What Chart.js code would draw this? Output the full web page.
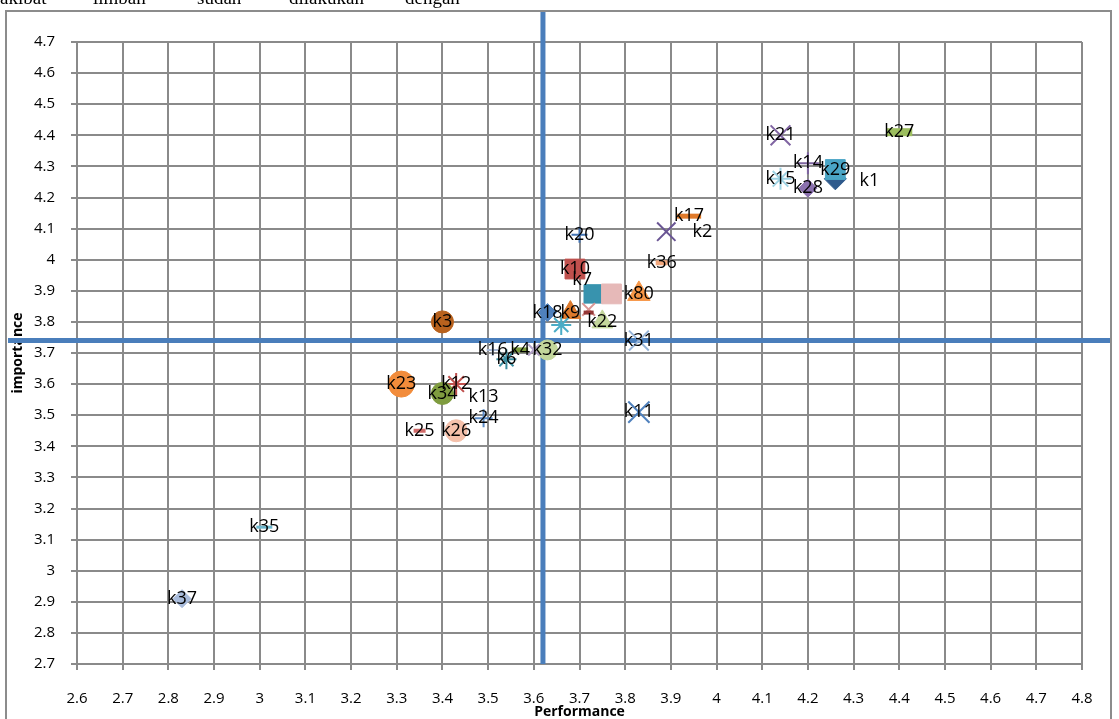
<!DOCTYPE html>
<html>
<head>
<meta charset="utf-8">
<script src="https://cdn.jsdelivr.net/npm/chart.js@4.4.0/dist/chart.umd.min.js"></script>
<style>
  html, body { margin: 0; padding: 0; background: #fff; }
  #wrap { position: relative; width: 1119px; height: 719px; overflow: hidden; }
  #chart { position: absolute; left: 0; top: 0; }
  .word { position: absolute; top: -13px; font: 19px "Liberation Serif", serif; color: #000; white-space: nowrap; }
</style>
</head>
<body>
<div id="wrap">
  <canvas id="chart" width="1119" height="719"></canvas>
  <span class="word" style="left:0px">akibat</span>
  <span class="word" style="left:93px">limbah</span>
  <span class="word" style="left:197px">sudah</span>
  <span class="word" style="left:289px">dilakukan</span>
  <span class="word" style="left:405px">dengan</span>
</div>
<script>
// --- data ---
const pointNames = ["k1", "k2", "k3", "k4", "k6", "k7", "k9", "k10", "k11", "k12", "k13", "k14", "k15", "k16", "k17", "k18",
  "k20", "k21", "k22", "k23", "k24", "k25", "k26", "k27", "k28", "k29", "k31", "k32", "k34", "k35", "k36", "k37", "k80",
  "", "", "", "", ""];
const performance = [4.26, 3.89, 3.40, 3.57, 3.54, 3.73, 3.68, 3.69, 3.83, 3.43, 3.49, 4.20, 4.14, 3.51, 3.94, 3.63,
  3.70, 4.14, 3.75, 3.31, 3.49, 3.35, 3.43, 4.40, 4.20, 4.26, 3.83, 3.63, 3.40, 3.01, 3.88, 2.83, 3.83,
  3.60, 3.66, 3.72, 3.72, 3.77];
const importance = [4.26, 4.09, 3.80, 3.71, 3.68, 3.89, 3.83, 3.97, 3.51, 3.60, 3.56, 4.31, 4.26, 3.71, 4.14, 3.83,
  4.08, 4.40, 3.80, 3.60, 3.49, 3.45, 3.45, 4.41, 4.23, 4.29, 3.74, 3.71, 3.57, 3.14, 3.99, 2.91, 3.89,
  3.71, 3.79, 3.84, 3.83, 3.89];
const xTickLabels = ["2.6", "2.7", "2.8", "2.9", "3", "3.1", "3.2", "3.3", "3.4", "3.5", "3.6", "3.7", "3.8", "3.9",
  "4", "4.1", "4.2", "4.3", "4.4", "4.5", "4.6", "4.7", "4.8"];
const yTickLabels = ["2.7", "2.8", "2.9", "3", "3.1", "3.2", "3.3", "3.4", "3.5", "3.6", "3.7", "3.8", "3.9",
  "4", "4.1", "4.2", "4.3", "4.4", "4.5", "4.6", "4.7"];
const performanceMean = 3.62;
const importanceMean = 3.74;

// --- marker styles (Excel-like) ---
const markerStyle = ["rectRot", "crossRot", "circle", "line", "star", "rect", "triangle", "rect", "crossRot", "star", "circle", "cross", "star", "cross", "line", "rectRot",
  "cross", "crossRot", "triangle", "circle", "cross", "line", "circle", "line", "rectRot", "rect", "crossRot", "circle", "circle", "line", "line", "rectRot", "triangle",
  "crossRot", "star", "crossRot", "line", "rect"];
const markerColor = ["#2E5A8C", "#6A5594", "#B8621E", "#7A9A3C", "#3A8DA0", "#3893AE", "#DD7A2C", "#C0504D", "#4F81BD", "#C0504D", "#000000", "#7E64A0", "#9DD2E3", "#A9B9D6", "#E07A2A", "#4F81BD",
  "#4475B5", "#8064A2", "#C3D69B", "#F28C3B", "#5A8AC6", "#D06A68", "#F5C0AA", "#9CBE5E", "#8B71AE", "#4AA5C5", "#95B3D7", "#C3D69B", "#7F9C3F", "#6CB7CE", "#F2A77C", "#A8BBDB", "#F79646",
  "#B3A2C7", "#4BACC6", "#D99694", "#953735", "#E6B9B8"];
const markerSize = [11, 13, 11, 8, 10, 13, 12, 14, 15, 11, 0, 11, 11, 6, 12, 9,
  8, 14, 12, 13, 9, 6, 11, 13, 9, 14, 14, 10, 11, 8, 6, 9, 13,
  8, 10, 9, 5, 14];
const markerLine = [1, 2, 1, 5, 2, 1, 1, 1, 2, 2, 1, 2, 2, 2, 5, 1,
  2, 2, 1, 1, 2, 4, 1, 8, 1, 1, 2, 1, 1, 3, 5, 1, 1,
  2, 2, 2, 4, 1];
// label shifts (px) for the few labels Excel put beside their marker
const labelShift = { "k1": [34, 2], "k2": [36, 0], "k7": [-11, -14] };

const gridColor = "#8A8A8A";
const blue = "#4A7EBB";
const tickFont = { family: "'Open Sans', sans-serif", size: 15 };
const titleFont = { family: "'Open Sans', sans-serif", size: 14, weight: "bold" };

const points = performance.map((x, i) => ({ x: x, y: importance[i] }));

const framePlugin = {
  id: "frame",
  beforeDraw(chart) {
    const ctx = chart.ctx;
    ctx.save();
    ctx.fillStyle = "#fff";
    ctx.fillRect(0, 0, chart.width, chart.height);
    ctx.strokeStyle = "#8C8C8C";
    ctx.lineWidth = 2;
    ctx.strokeRect(6, 11, 1105, 800);
    ctx.restore();
  }
};

const meanLinesPlugin = {
  id: "meanLines",
  beforeDatasetsDraw(chart) {
    const ctx = chart.ctx;
    const xs = chart.scales.x, ys = chart.scales.y;
    const px = xs.getPixelForValue(performanceMean);
    const py = ys.getPixelForValue(importanceMean);
    ctx.save();
    ctx.strokeStyle = blue;
    ctx.lineWidth = 5;
    ctx.beginPath();
    ctx.moveTo(px, 12);
    ctx.lineTo(px, chart.chartArea.bottom);
    ctx.moveTo(8, py);
    ctx.lineTo(1110, py);
    ctx.stroke();
    ctx.restore();
  }
};

const labelPlugin = {
  id: "pointLabels",
  afterDatasetsDraw(chart) {
    const ctx = chart.ctx;
    const meta = chart.getDatasetMeta(0);
    ctx.save();
    ctx.font = "18px 'Open Sans', sans-serif";
    ctx.fillStyle = "#000";
    ctx.textAlign = "center";
    ctx.textBaseline = "middle";
    meta.data.forEach((el, i) => {
      const name = pointNames[i];
      if (!name) return;
      const s = labelShift[name] || [0, 0];
      ctx.fillText(name, el.x + s[0], el.y + s[1]);
    });
    ctx.restore();
  }
};

new Chart(document.getElementById("chart"), {
  type: "scatter",
  data: {
    datasets: [{
      data: points,
      pointStyle: markerStyle,
      pointRadius: markerSize,
      pointHoverRadius: markerSize,
      pointBackgroundColor: markerColor,
      pointBorderColor: markerColor,
      pointBorderWidth: markerLine
    }]
  },
  options: {
    responsive: false,
    animation: false,
    events: [],
    layout: { padding: { left: 0, right: 37, top: 42, bottom: 0 } },
    plugins: { legend: { display: false }, tooltip: { enabled: false } },
    scales: {
      x: {
        type: "linear",
        min: 2.6,
        max: 4.8,
        afterBuildTicks(scale) {
          scale.ticks = xTickLabels.map(t => ({ value: parseFloat(t) }));
        },
        afterFit(scale) { scale.height = 55; },
        ticks: {
          autoSkip: false,
          maxRotation: 0,
          padding: 20,
          color: "#000",
          font: tickFont,
          callback: (v, i) => xTickLabels[i]
        },
        grid: { color: gridColor, lineWidth: 2, tickLength: 6, tickColor: gridColor },
        border: { color: gridColor, width: 2 },
        title: { display: true, text: "Performance", color: "#000", font: titleFont, padding: { top: 0, bottom: -1 } }
      },
      y: {
        type: "linear",
        min: 2.7,
        max: 4.7,
        afterBuildTicks(scale) {
          scale.ticks = yTickLabels.map(t => ({ value: parseFloat(t) }));
        },
        afterFit(scale) { scale.width = 77; },
        ticks: {
          autoSkip: false,
          padding: 16,
          color: "#000",
          font: tickFont,
          callback: (v, i) => yTickLabels[i]
        },
        grid: { color: gridColor, lineWidth: 2, tickLength: 6, tickColor: gridColor },
        border: { color: gridColor, width: 2 },
        title: { display: true, text: "importance", color: "#000", font: titleFont, padding: { top: 10, bottom: 0 } }
      }
    }
  },
  plugins: [framePlugin, meanLinesPlugin, labelPlugin]
});
</script>
</body>
</html>
